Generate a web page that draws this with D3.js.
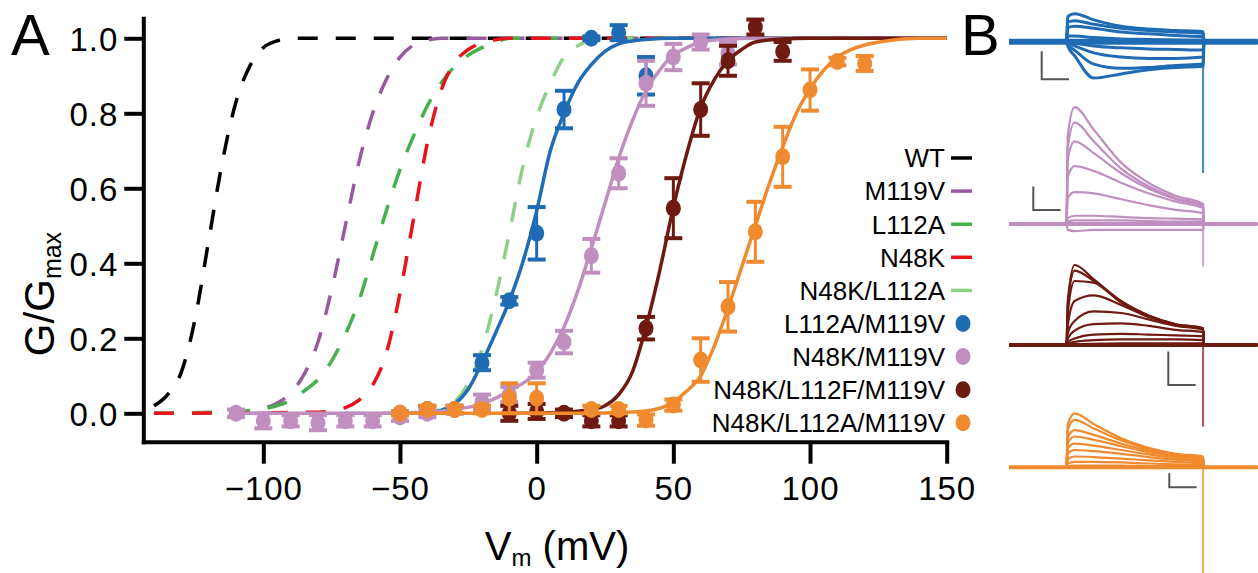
<!DOCTYPE html>
<html><head><meta charset="utf-8">
<script src="https://cdn.jsdelivr.net/npm/d3@7"></script>
<style>
html,body{margin:0;padding:0;background:#fff;}
svg{display:block;font-family:"Liberation Sans",Arial,Helvetica,sans-serif;}
</style></head><body>
<svg id="chart" width="1258" height="573"></svg>
<script>
// ---------------- DATA ----------------
const seriesNames = ["WT","M119V","L112A","N48K","N48K/L112A","L112A/M119V","N48K/M119V","N48K/L112F/M119V","N48K/L112A/M119V"];
const xTicks = [-100,-50,0,50,100,150];
const yTicks = [0,0.2,0.4,0.6,0.8,1.0];

// dashed fit curves
const wtFitV = [-140,-135,-130,-125,-120,-115,-110,-105,-100,-95,-90,150];
const wtFitG = [0.02,0.05,0.11,0.25,0.46,0.67,0.83,0.925,0.975,0.993,1.0,1.0];
const m119vFitV = [-140,-110,-100,-95,-90,-85,-80,-75,-70,-65,-60,-55,-50,-45,-40,-35,150];
const m119vFitG = [0,0.003,0.013,0.027,0.054,0.105,0.19,0.33,0.5,0.67,0.80,0.89,0.95,0.982,0.995,1.0,1.0];
const l112aFitV = [-140,-110,-100,-90,-85,-80,-75,-70,-65,-60,-55,-50,-45,-40,-35,-30,-25,-20,-15,-10,150];
const l112aFitG = [0,0.005,0.012,0.035,0.06,0.09,0.14,0.21,0.30,0.42,0.54,0.65,0.74,0.82,0.88,0.925,0.955,0.975,0.99,1.0,1.0];
const n48kFitV = [-140,-80,-70,-65,-60,-55,-50,-45,-40,-35,-30,-25,-20,-15,-10,150];
const n48kFitG = [0,0.003,0.015,0.035,0.075,0.16,0.32,0.52,0.72,0.86,0.935,0.97,0.988,0.996,1.0,1.0];
const n48kl112aFitV = [-140,-50,-40,-35,-30,-25,-20,-15,-10,-5,0,5,10,15,20,25,150];
const n48kl112aFitG = [0,0,0.003,0.01,0.03,0.08,0.17,0.31,0.48,0.66,0.79,0.88,0.95,0.98,0.995,1.0,1.0];

// solid fit curves
const l112am119vFitV = [-50,-40,-35,-30,-25,-20,-15,-10,-5,0,5,10,15,20,25,30,35,40,50,150];
const l112am119vFitG = [0,0.002,0.008,0.025,0.065,0.135,0.215,0.30,0.405,0.54,0.70,0.80,0.88,0.93,0.965,0.985,0.993,0.997,1.0,1.0];
const n48km119vFitV = [-110,-60,-40,-30,-20,-10,0,5,10,15,20,25,30,35,40,45,50,55,60,70,80,150];
const n48km119vFitG = [0,0,0.003,0.01,0.025,0.06,0.11,0.16,0.23,0.325,0.44,0.56,0.68,0.78,0.86,0.915,0.955,0.975,0.99,0.998,1.0,1.0];
const n48kl112fm119vFitV = [-10,10,20,25,30,35,40,45,50,55,60,65,70,75,80,90,100,150];
const n48kl112fm119vFitG = [0,0.003,0.01,0.02,0.05,0.11,0.23,0.38,0.55,0.695,0.815,0.89,0.94,0.97,0.99,0.998,1.0,1.0];
const n48kl112am119vFitV = [-50,20,30,40,50,55,60,65,70,75,80,85,90,95,100,105,110,115,120,130,140,150];
const n48kl112am119vFitG = [0,0,0.002,0.006,0.03,0.06,0.1,0.18,0.28,0.39,0.5,0.61,0.71,0.80,0.865,0.915,0.95,0.97,0.982,0.995,1.0,1.0];

// data points (mean, error)
const l112am119vV = [-50,-40,-30,-20,-10,0,10,20,30,40];
const l112am119vG = [0.0,0.01,0.01,0.135,0.30,0.48,0.81,1.0,1.015,0.90];
const l112am119vE = [0.005,0.01,0.01,0.02,0.01,0.07,0.05,0.005,0.02,0.05];
const n48km119vV = [-110,-100,-90,-80,-70,-60,-50,-40,-30,-20,-10,0,10,20,30,40,50,60,70];
const n48km119vG = [0.0,-0.02,-0.02,-0.025,-0.02,-0.02,-0.01,0.0,0.01,0.03,0.05,0.115,0.19,0.42,0.64,0.88,0.95,0.99,0.96];
const n48km119vE = [0.01,0.02,0.015,0.02,0.015,0.015,0.01,0.01,0.01,0.02,0.02,0.02,0.03,0.045,0.04,0.06,0.035,0.02,0.03];
const n48kl112fm119vV = [-10,0,10,20,30,40,50,60,70,80,90];
const n48kl112fm119vG = [0.0,0.005,0.0,-0.02,-0.02,0.227,0.547,0.81,0.94,1.03,0.965];
const n48kl112fm119vE = [0.02,0.02,0.01,0.015,0.015,0.03,0.08,0.07,0.04,0.02,0.025];
const n48kl112am119vV = [-50,-40,-30,-20,-10,0,20,30,40,50,60,70,80,90,100,110,120];
const n48kl112am119vG = [0.0,0.01,0.01,0.01,0.04,0.04,0.01,0.01,-0.018,0.022,0.142,0.284,0.484,0.684,0.862,0.938,0.933];
const n48kl112am119vE = [0.005,0.01,0.01,0.01,0.04,0.04,0.01,0.01,0.015,0.015,0.058,0.066,0.08,0.08,0.055,0.01,0.02];

// panel B current traces (normalised current at traceTimes, ms after step onset)
const traceTimes = [1, 6, 20, 40, 60, 80, 100];
const l112am119vTraces = [
  [0.9,1.0,0.78,0.55,0.45,0.40,0.36],
  [0.7,0.75,0.62,0.48,0.40,0.35,0.30],
  [0.5,0.55,0.48,0.35,0.28,0.22,0.18],
  [0.2,0.2,0.15,0.1,0.08,0.06,0.05],
  [0.0,-0.05,-0.15,-0.22,-0.26,-0.28,-0.3],
  [-0.05,-0.15,-0.4,-0.55,-0.6,-0.6,-0.55],
  [-0.1,-0.3,-0.8,-0.95,-0.92,-0.85,-0.8],
  [-0.15,-0.5,-1.3,-1.15,-1.0,-0.92,-0.88]
];
const n48km119vTraces = [
  [0.75,0.99,0.80,0.52,0.35,0.24,0.17],
  [0.65,0.86,0.70,0.47,0.32,0.22,0.16],
  [0.55,0.70,0.60,0.43,0.30,0.21,0.15],
  [0.40,0.49,0.45,0.35,0.26,0.19,0.135],
  [0.22,0.27,0.26,0.21,0.16,0.12,0.09],
  [0.05,0.07,0.07,0.06,0.05,0.045,0.04],
  [0.02,0.03,0.03,0.03,0.025,0.02,0.02],
  [-0.05,-0.06,-0.05,-0.05,-0.05,-0.05,-0.05]
];
const n48kl112fm119vTraces = [
  [0.55,1.0,0.82,0.55,0.37,0.26,0.21],
  [0.50,0.93,0.80,0.54,0.37,0.26,0.21],
  [0.40,0.80,0.78,0.53,0.36,0.25,0.2],
  [0.25,0.55,0.62,0.50,0.35,0.25,0.2],
  [0.15,0.30,0.42,0.40,0.32,0.24,0.19],
  [0.08,0.18,0.26,0.27,0.24,0.19,0.16],
  [0.04,0.08,0.13,0.14,0.13,0.12,0.11],
  [0.02,0.04,0.06,0.07,0.07,0.07,0.06],
  [0.0,0.01,0.015,0.02,0.02,0.02,0.02]
];
const n48kl112am119vTraces = [
  [0.8,1.0,0.80,0.54,0.36,0.25,0.2],
  [0.7,0.88,0.72,0.50,0.34,0.24,0.18],
  [0.55,0.69,0.60,0.44,0.31,0.22,0.16],
  [0.45,0.57,0.51,0.39,0.28,0.2,0.14],
  [0.35,0.44,0.40,0.32,0.24,0.17,0.12],
  [0.25,0.32,0.30,0.25,0.19,0.14,0.1],
  [0.15,0.2,0.19,0.16,0.13,0.1,0.07],
  [0.07,0.1,0.1,0.09,0.07,0.055,0.04],
  [0.02,0.03,0.03,0.03,0.02,0.02,0.015]
];
const tailSpikes = [-4.69, -0.36, -1.02, -1.96];
const scaleBarCurrent = [1.0, 0.2, 0.42, 0.26];
const scaleBarTime = 20;

// ---------------- STYLE ----------------
const colors = ["#000000","#985a9f","#45b04d","#e8131b","#8ed08a","#1f6cb5","#c08fc0","#6e1a10","#f08a2e"];
const spikeColors = ["#3d86c8","#cda6cd","#a9564e","#f6a85a"];

const svg = d3.select("#chart");
const x = d3.scaleLinear().domain([-143.9, 150]).range([143.3, 946.7]);
const y = d3.scaleLinear().domain([-0.0757, 1.0533]).range([441.7, 18.3]);
const line = d3.line().x(d => x(d[0])).y(d => y(d[1])).curve(d3.curveMonotoneX);
const zip = (a, b) => a.map((v, i) => [v, b[i]]);

// ---------------- AXES ----------------
const gx = svg.append("g").attr("transform", `translate(0,${y.range()[0]})`)
  .call(d3.axisBottom(x).tickValues(xTicks).tickSize(22).tickSizeOuter(0).tickPadding(13).tickFormat(d3.format("d")));
const gy = svg.append("g").attr("transform", `translate(${x.range()[0]},0)`)
  .call(d3.axisLeft(y).tickValues(yTicks).tickSize(19).tickSizeOuter(0).tickPadding(6).tickFormat(d3.format(".1f")));
[gx, gy].forEach(g => {
  g.attr("font-family", null).attr("font-size", null);
  g.select(".domain").attr("stroke", "#000").attr("stroke-width", 4).attr("stroke-linecap", "square");
  g.selectAll(".tick line").attr("stroke", "#000").attr("stroke-width", 4);
  g.selectAll(".tick text").attr("fill", "#000").style("font-size", "33px").style("letter-spacing", "1px");
});
gy.selectAll(".tick text").attr("dy", "0.36em");

// axis titles
const xt = svg.append("text").attr("x", 557).attr("y", 560).attr("text-anchor", "middle").style("font-size", "40px");
xt.append("tspan").text("V");
xt.append("tspan").text("m").style("font-size", "24px").attr("dy", 6);
xt.append("tspan").text(" (mV)").attr("dy", -6);

const yt = svg.append("text").attr("transform", "translate(54,294) rotate(-90)").attr("text-anchor", "middle").style("font-size", "42px");
yt.append("tspan").text("G/G");
yt.append("tspan").text("max").style("font-size", "25px").attr("dy", 7);

svg.append("text").attr("x", 11).attr("y", 55).style("font-size", "58px").text("A");
svg.append("text").attr("x", 961).attr("y", 55).style("font-size", "58px").text("B");

// ---------------- PANEL A CURVES ----------------
const plot = svg.append("g");
const dashedFits = [
  [wtFitV, wtFitG, 0], [m119vFitV, m119vFitG, 1], [l112aFitV, l112aFitG, 2],
  [n48kl112aFitV, n48kl112aFitG, 4], [n48kFitV, n48kFitG, 3]
];
dashedFits.forEach(([v, g, i]) => {
  plot.append("path").attr("d", line(zip(v, g))).attr("fill", "none")
    .attr("stroke", colors[i]).attr("stroke-width", 3.5).attr("stroke-dasharray", "20,18");
});

const solidSeries = [
  [l112am119vFitV, l112am119vFitG, l112am119vV, l112am119vG, l112am119vE, 5],
  [n48km119vFitV, n48km119vFitG, n48km119vV, n48km119vG, n48km119vE, 6],
  [n48kl112fm119vFitV, n48kl112fm119vFitG, n48kl112fm119vV, n48kl112fm119vG, n48kl112fm119vE, 7],
  [n48kl112am119vFitV, n48kl112am119vFitG, n48kl112am119vV, n48kl112am119vG, n48kl112am119vE, 8]
];
solidSeries.forEach(([fv, fg, dv, dg, de, i]) => {
  const c = colors[i];
  const g = plot.append("g");
  g.append("path").attr("d", line(zip(fv, fg))).attr("fill", "none").attr("stroke", c).attr("stroke-width", 3.5);
  const pts = dv.map((v, k) => ({v, g: dg[k], e: de[k]}));
  const eb = g.selectAll(".eb").data(pts).enter().append("g");
  eb.append("line").attr("x1", d => x(d.v)).attr("x2", d => x(d.v))
    .attr("y1", d => y(d.g - d.e)).attr("y2", d => y(d.g + d.e)).attr("stroke", c).attr("stroke-width", 3);
  [1, -1].forEach(s => {
    eb.append("line").attr("x1", d => x(d.v) - 9).attr("x2", d => x(d.v) + 9)
      .attr("y1", d => y(d.g + s * d.e)).attr("y2", d => y(d.g + s * d.e)).attr("stroke", c).attr("stroke-width", 4);
  });
  g.selectAll(".pt").data(pts).enter().append("ellipse")
    .attr("cx", d => x(d.v)).attr("cy", d => y(d.g)).attr("rx", 7.5).attr("ry", 8.5).attr("fill", c);
});

// ---------------- LEGEND ----------------
const leg = svg.append("g");
seriesNames.forEach((n, i) => {
  const ly = 158 + i * 33.1;
  leg.append("text").attr("x", 945).attr("y", ly).attr("dy", "0.36em").attr("text-anchor", "end")
    .style("font-size", "26px").attr("fill", "#000").text(n);
  if (i < 5) {
    leg.append("line").attr("x1", 951).attr("x2", 972).attr("y1", ly).attr("y2", ly)
      .attr("stroke", colors[i]).attr("stroke-width", 3.5);
  } else {
    leg.append("ellipse").attr("cx", 963).attr("cy", ly).attr("rx", 7.5).attr("ry", 8.5).attr("fill", colors[i]);
  }
});

// ---------------- PANEL B TRACES ----------------
const tScale = d3.scaleLinear().domain([-42, 140]).range([1009, 1257.8]);
const tLine = d3.line().x(d => tScale(d[0])).y(d => d[1]).curve(d3.curveMonotoneX);
const panels = [
  {traces: l112am119vTraces, base: 41.7, unit: 28, ci: 5, sw: 3, bar: [1041.7, 79.3]},
  {traces: n48km119vTraces, base: 224, unit: 118, ci: 6, sw: 2.2, bar: [1033.3, 210]},
  {traces: n48kl112fm119vTraces, base: 345, unit: 80, ci: 7, sw: 2.2, bar: [1168.3, 385]},
  {traces: n48kl112am119vTraces, base: 467.3, unit: 54, ci: 8, sw: 2.2, bar: [1169.3, 487.3]}
];
panels.forEach((p, pi) => {
  const py = d3.scaleLinear().domain([0, 1]).range([p.base, p.base - p.unit]);
  const g = svg.append("g");
  g.append("line").attr("x1", tScale(100)).attr("x2", tScale(100)).attr("y1", py(0)).attr("y2", py(tailSpikes[pi]))
    .attr("stroke", spikeColors[pi]).attr("stroke-width", 2);
  g.append("line").attr("x1", tScale(-42)).attr("x2", tScale(140)).attr("y1", py(0)).attr("y2", py(0))
    .attr("stroke", colors[p.ci]).attr("stroke-width", pi === 0 ? 6 : 4);
  p.traces.forEach(tr => {
    const pts = [[-42, py(0)], [0, py(0)]].concat(traceTimes.map((t, k) => [t, py(tr[k])]), [[100.6, py(0)], [140, py(0)]]);
    g.append("path").attr("d", tLine(pts)).attr("fill", "none").attr("stroke", colors[p.ci])
      .attr("stroke-width", p.sw).attr("stroke-linejoin", "round");
  });
  const bx = p.bar[0], by = p.bar[1];
  const hLen = tScale(scaleBarTime) - tScale(0);
  const vLen = py(0) - py(scaleBarCurrent[pi]);
  g.append("path").attr("d", `M${bx},${by - vLen}V${by}H${bx + hLen}`).attr("fill", "none")
    .attr("stroke", "#555").attr("stroke-width", 2);
});
</script></body></html>
